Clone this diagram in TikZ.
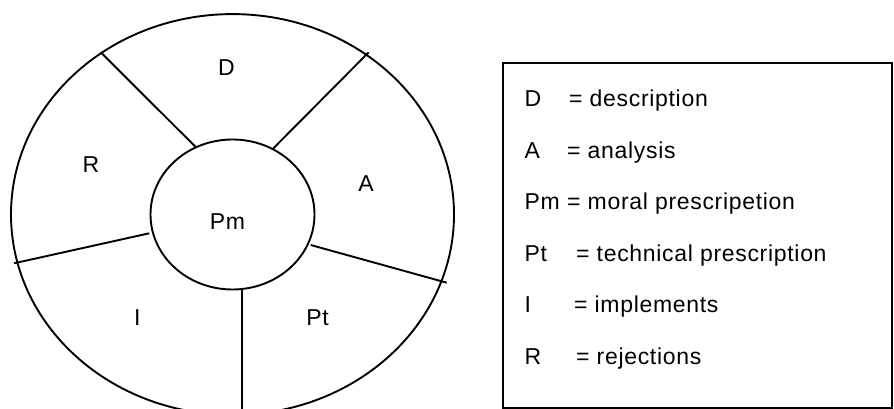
\documentclass[tikz,border=0pt]{standalone}
\usepackage{fontspec}
\setmainfont{Liberation Sans}[LetterSpace=3]

\begin{document}
\begin{tikzpicture}[
    x=1pt, y=1pt,
    font=\fontsize{23}{27}\selectfont,
    ring/.style={line width=1.9pt},
    divider/.style={line width=1.9pt},
    sector/.style={inner sep=0pt, anchor=base},
    keyname/.style={inner sep=0pt, anchor=base west},
    legendbox/.style={line width=1.9pt},
]
\useasboundingbox (0,0) rectangle (894,409);

% wheel
\coordinate (wheel) at (232.5,194.5);
\draw[ring] (wheel) ellipse [x radius=221.5, y radius=200.4];
\draw[ring] (wheel) ellipse [x radius=82, y radius=75];

% dividers between the sectors
\coordinate (rd-in) at (195.7,262);   \coordinate (rd-out) at (100.7,356.7);
\coordinate (da-in) at (272.7,260);   \coordinate (da-out) at (368.7,356.7);
\coordinate (ap-in) at (310.7,164);   \coordinate (ap-out) at (446.7,126.3);
\coordinate (pi-in) at (241.7,119);   \coordinate (pi-out) at (241.7,0);
\coordinate (ir-in) at (149.3,175.7); \coordinate (ir-out) at (14,145.7);
\draw[divider] (rd-in) -- (rd-out);
\draw[divider] (da-in) -- (da-out);
\draw[divider] (ap-in) -- (ap-out);
\draw[divider] (pi-in) -- (pi-out);
\draw[divider] (ir-in) -- (ir-out);

% sector labels
\node[sector] (d)  at (226.5,333)  {D};
\node[sector] (r)  at (91,236.3)   {R};
\node[sector] (a)  at (366,217)    {A};
\node[sector] (pm) at (227.5,179)  {Pm};
\node[sector] (i)  at (137.3,83.3) {I};
\node[sector] (pt) at (317.5,83.3) {Pt};

% legend
\draw[legendbox] (502.7,346.3) rectangle (892,1.3);
\foreach \key/\eqx/\gloss/\y/\name in {
    D/569/description/302/d,
    A/567/analysis/250.5/a,
    Pm/567/moral prescripetion/199/pm,
    Pt/576/technical prescription/147.5/pt,
    I/574/implements/96/i,
    R/576/rejections/44.5/r} {
  \node[keyname] (key-\name) at (524.3,\y) {\key};
  \node[keyname] (gloss-\name) at (\eqx,\y) {= \gloss};
}

\end{tikzpicture}
\end{document}
